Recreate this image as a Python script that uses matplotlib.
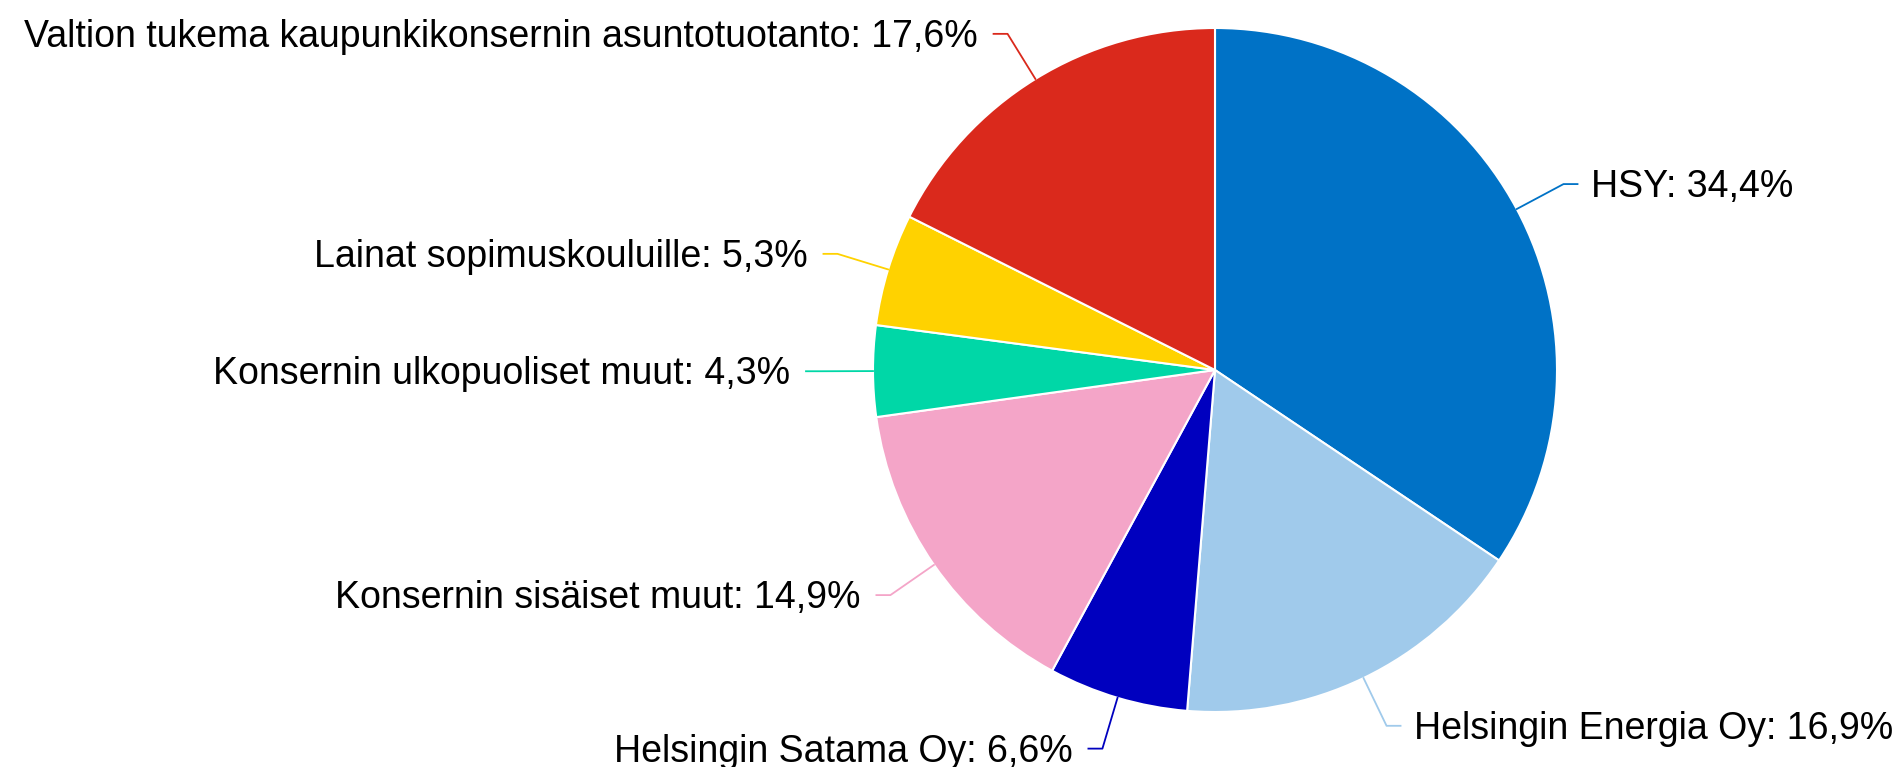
import matplotlib.pyplot as plt
import numpy as np

# Slice data, clockwise from the top
names = ['HSY', 'Helsingin Energia Oy', 'Helsingin Satama Oy', 'Konsernin sisäiset muut',
         'Konsernin ulkopuoliset muut', 'Lainat sopimuskouluille',
         'Valtion tukema kaupunkikonsernin asuntotuotanto']
shares = [34.4, 16.9, 6.6, 14.9, 4.3, 5.3, 17.6]
colors = ['#0072C6', '#A0CAEB', '#0000BF', '#F4A5C8', '#00D7A7', '#FFD200', '#DA291C']

plt.rcParams['font.family'] = ['Liberation Sans', 'DejaVu Sans']

fig = plt.figure(figsize=(19, 7.67), dpi=100)
ax = fig.add_axes([0, 0, 1, 1])

cx, cy, r = 1215, 370, 342

# y axis is flipped, so counterclock in data space is clockwise on screen
wedges, _ = ax.pie(shares, colors=colors, center=(cx, cy), radius=r,
                   startangle=-90, counterclock=True, frame=True,
                   wedgeprops={'edgecolor': 'white', 'linewidth': 1.5})
ax.set_xlim(0, 1900)
ax.set_ylim(767, 0)
ax.set_aspect('equal')
ax.axis('off')

# labels with connectors
for w, name, val, col in zip(wedges, names, shares, colors):
    ang = np.deg2rad((w.theta1 + w.theta2) / 2)
    dx, dy = np.cos(ang), np.sin(ang)
    ex, ey = cx + r * dx, cy + r * dy
    bx, by = cx + 395 * dx, cy + 395 * dy
    side = 1 if dx > 0 else -1
    ax.plot([ex, bx, bx + side * 14], [ey, by, by], color=col, lw=1.3)
    txt = name + ': ' + ('%.1f' % val).replace('.', ',') + '%'
    gap = 27 if side > 0 else 30
    ax.text(bx + side * gap, by + 3, txt, fontsize=27, color='black',
            ha='left' if side > 0 else 'right', va='center')

plt.savefig('out.png', dpi=100)
